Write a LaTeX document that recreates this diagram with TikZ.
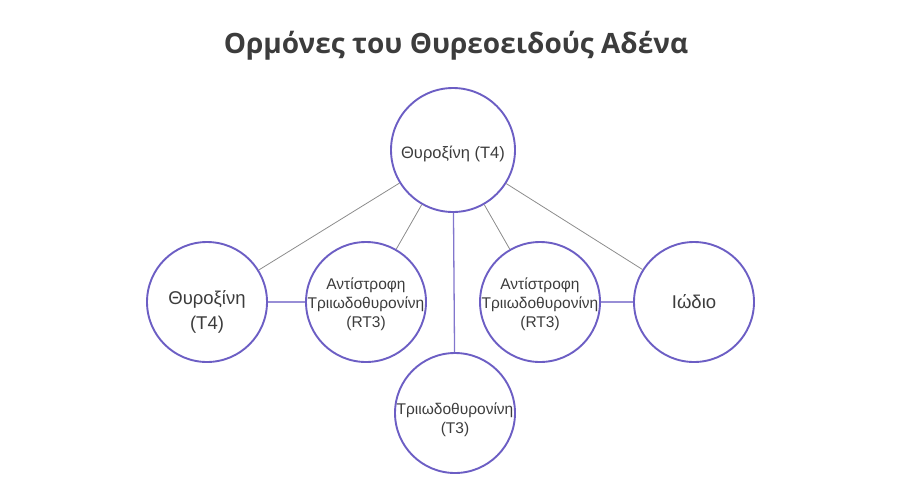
\documentclass[tikz,border=0pt]{standalone}
\usepackage{fontspec}
\setmainfont{Liberation Sans}
\newfontfamily\titlefont{Open Sans}
\usepackage{tikz}
\definecolor{ringblue}{RGB}{108,94,196}
\definecolor{linkgray}{RGB}{140,140,140}
\definecolor{inkgray}{RGB}{60,60,60}
\tikzset{>=latex,
  hormone/.style={circle,draw=ringblue,fill=white,line width=1.9pt,minimum size=120pt,inner sep=0pt},
  hormonetext/.style={align=center,text=inkgray,font=\fontsize{15.5}{19}\selectfont},
  bighormonetext/.style={align=center,text=inkgray,font=\fontsize{18.5}{25}\selectfont},
  graylink/.style={draw=linkgray,line width=0.8pt},
  bluelink/.style={draw=ringblue!85,line width=1.3pt}}

\begin{document}
\begin{tikzpicture}[x=1pt,y=-1pt]
            \useasboundingbox (0,0) rectangle (901,499);
            \node[anchor=base,text=inkgray,font=\titlefont\bfseries\fontsize{28}{32}\selectfont] (title) at (456,53) {Ορμόνες του Θυρεοειδούς Αδένα};
            \node[hormone,minimum size=124pt,label={[hormonetext,font=\fontsize{16.5}{19}\selectfont,yshift=-4pt]center:Θυροξίνη (T4)}] (thyroxine) at (453,150) {};
            \node[hormone,label={[bighormonetext,yshift=-10pt]center:Θυροξίνη\\(T4)}] (thyroxinebig) at (207,302) {};
            \node[hormone,label={[hormonetext,yshift=-2pt]center:Αντίστροφη\\Τριιωδοθυρονίνη\\(RT3)}] (rtleft) at (366,302) {};
            \node[hormone,label={[hormonetext,yshift=-7pt]center:Τριιωδοθυρονίνη\\(T3)}] (tthree) at (455,413) {};
            \node[hormone,label={[hormonetext,yshift=-2pt]center:Αντίστροφη\\Τριιωδοθυρονίνη\\(RT3)}] (rtright) at (540,302) {};
            \node[hormone,label={[bighormonetext]center:Ιώδιο}] (iodine) at (694,302) {};
            \foreach \v in {thyroxinebig,rtleft,rtright,iodine}
                \draw[graylink] (thyroxine) -- (\v);
            \draw[bluelink] (thyroxine) -- (tthree);
            \draw[bluelink,line width=1.8pt,draw=ringblue!70] (thyroxinebig) -- (rtleft);
            \draw[bluelink,line width=1.8pt,draw=ringblue!70] (rtright) -- (iodine);
        \end{tikzpicture}
\end{document}
